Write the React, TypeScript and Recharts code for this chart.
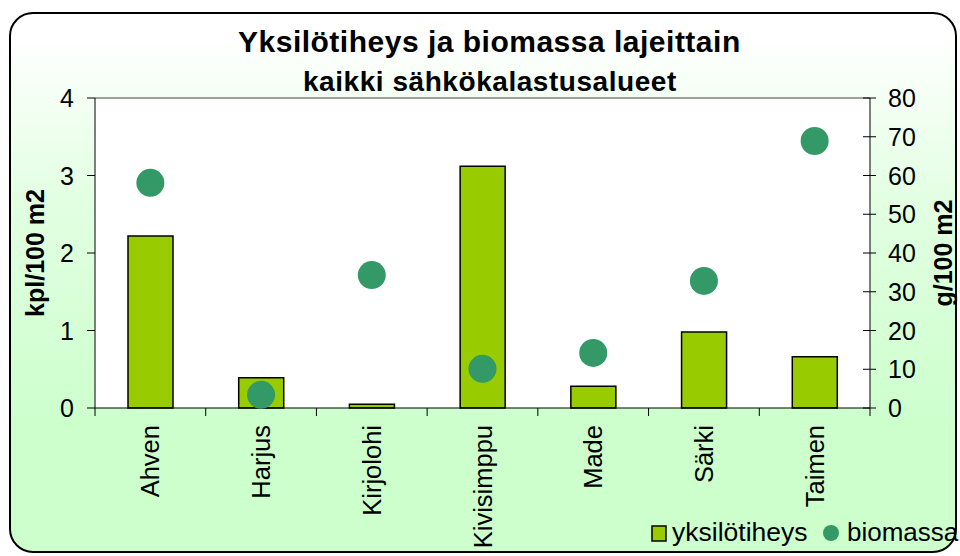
import React from 'react';
import { ComposedChart, Bar, Scatter, XAxis, YAxis, ReferenceArea, ReferenceLine, Label } from 'recharts';

const categories = ['Ahven', 'Harjus', 'Kirjolohi', 'Kivisimppu', 'Made', 'Särki', 'Taimen'];
const density = [2.22, 0.39, 0.05, 3.12, 0.28, 0.98, 0.66];
const biomass = [58.1, 3.4, 34.3, 10.1, 14.2, 32.8, 68.9];
const leftTicks = [0, 1, 2, 3, 4];
const rightTicks = [0, 10, 20, 30, 40, 50, 60, 70, 80];

const data = categories.map((name, i) => ({ name, density: density[i], biomass: biomass[i] }));

const FONT = '"Liberation Sans", Arial, sans-serif';
const W = 960;
const H = 556;
const MARGIN = { top: 98, right: 0, bottom: 8, left: 10 };
const LEFT_W = 85;
const RIGHT_W = 90;
const HALF_BAND = (W - MARGIN.left - MARGIN.right - LEFT_W - RIGHT_W) / categories.length / 2;

const XTick = (props: any) => {
  const { x, y, payload, index } = props;
  return (
    <g>
      <line x1={x - HALF_BAND} y1={y} x2={x - HALF_BAND} y2={y + 8} stroke="#000" strokeWidth={1} />
      {index === categories.length - 1 && (
        <line x1={x + HALF_BAND} y1={y} x2={x + HALF_BAND} y2={y + 8} stroke="#000" strokeWidth={1} />
      )}
      <text
        x={x}
        y={y + 17}
        transform={`rotate(-90, ${x}, ${y + 17})`}
        textAnchor="end"
        dominantBaseline="central"
        fontSize={25.5}
        fontFamily={FONT}
        fill="#000"
      >
        {payload.value}
      </text>
    </g>
  );
};

const LeftTick = (props: any) => {
  const { x, y, payload } = props;
  return (
    <g>
      <line x1={x - 8} y1={y} x2={x} y2={y} stroke="#000" strokeWidth={1} />
      <text x={x - 21} y={y} textAnchor="end" dominantBaseline="central" fontSize={25} fontFamily={FONT} fill="#000">
        {payload.value}
      </text>
    </g>
  );
};

const RightTick = (props: any) => {
  const { x, y, payload } = props;
  return (
    <g>
      <line x1={x - 7} y1={y} x2={x + 6} y2={y} stroke="#000" strokeWidth={1} />
      <text x={x + 18} y={y} textAnchor="start" dominantBaseline="central" fontSize={25} fontFamily={FONT} fill="#000">
        {payload.value}
      </text>
    </g>
  );
};

const Dot = (props: any) => <circle cx={props.cx} cy={props.cy} r={14} fill="#339966" />;

export default function App() {
  return (
    <div style={{ position: 'absolute', left: 0, top: 0, width: W, height: H, fontFamily: FONT }}>
      <div
        style={{
          position: 'absolute',
          left: 9,
          top: 12,
          width: 948,
          height: 541,
          boxSizing: 'border-box',
          border: '2px solid #000',
          borderRadius: 24,
          background: 'linear-gradient(180deg, #ffffff 4%, #e2ffe2 35%, #ccffcc 78%, #ccffcc 100%)',
        }}
      />
      <div style={{ position: 'absolute', left: 0, top: 0 }}>
        <ComposedChart width={W} height={H} data={data} margin={MARGIN}>
          <XAxis
            dataKey="name"
            xAxisId="x"
            height={140}
            interval={0}
            tickSize={0}
            tickMargin={0}
            tick={<XTick />}
            axisLine={{ stroke: '#000', strokeWidth: 1 }}
          />
          <YAxis
            yAxisId="left"
            orientation="left"
            width={LEFT_W}
            domain={[0, 4]}
            ticks={leftTicks}
            interval={0}
            tickSize={0}
            tickMargin={0}
            tick={<LeftTick />}
            axisLine={{ stroke: '#000', strokeWidth: 1 }}
          >
            <Label
              content={({ viewBox }: any) => {
                const cx = viewBox.x + 25;
                const cy = viewBox.y + viewBox.height / 2;
                return (
                  <text
                    x={cx}
                    y={cy}
                    transform={`rotate(-90, ${cx}, ${cy})`}
                    textAnchor="middle"
                    dominantBaseline="central"
                    fontSize={25}
                    fontWeight="bold"
                    fontFamily={FONT}
                    fill="#000"
                  >
                    kpl/100 m2
                  </text>
                );
              }}
            />
          </YAxis>
          <YAxis
            yAxisId="right"
            orientation="right"
            width={RIGHT_W}
            domain={[0, 80]}
            ticks={rightTicks}
            interval={0}
            tickSize={0}
            tickMargin={0}
            tick={<RightTick />}
            axisLine={{ stroke: '#000', strokeWidth: 1 }}
          >
            <Label
              content={({ viewBox }: any) => {
                const cx = viewBox.x + 73;
                const cy = viewBox.y + viewBox.height / 2;
                return (
                  <text
                    x={cx}
                    y={cy}
                    transform={`rotate(-90, ${cx}, ${cy})`}
                    textAnchor="middle"
                    dominantBaseline="central"
                    fontSize={25}
                    fontWeight="bold"
                    fontFamily={FONT}
                    fill="#000"
                  >
                    g/100 m2
                  </text>
                );
              }}
            />
          </YAxis>
          <ReferenceArea xAxisId="x" yAxisId="left" y1={0} y2={4} fill="#ffffff" fillOpacity={1} stroke="none" ifOverflow="visible" />
          <ReferenceLine xAxisId="x" yAxisId="left" y={4} stroke="#808080" strokeWidth={1.5} />
          <Bar
            xAxisId="x"
            yAxisId="left"
            dataKey="density"
            fill="#99CC00"
            stroke="#000"
            strokeWidth={1.5}
            barSize={45}
            isAnimationActive={false}
          />
          <Scatter
            xAxisId="x"
            yAxisId="right"
            dataKey="biomass"
            fill="#339966"
            shape={<Dot />}
            isAnimationActive={false}
          />
        </ComposedChart>
      </div>
      <svg width={W} height={H} style={{ position: 'absolute', left: 0, top: 0, pointerEvents: 'none' }}>
        <text x={238} y={52} textAnchor="start" fontSize={30} letterSpacing={0.5} fontWeight="bold" fontFamily={FONT} fill="#000">
          Yksilötiheys ja biomassa lajeittain
        </text>
        <text x={303} y={91} textAnchor="start" fontSize={28} letterSpacing={0.55} fontWeight="bold" fontFamily={FONT} fill="#000">
          kaikki sähkökalastusalueet
        </text>
        <rect x={652} y={526} width={14} height={15} fill="#99CC00" stroke="#000" strokeWidth={1.5} />
        <text x={672} y={541} fontSize={26.5} fontFamily={FONT} fill="#000">
          yksilötiheys
        </text>
        <circle cx={831} cy={533} r={8} fill="#339966" />
        <text x={847} y={541} fontSize={26} fontFamily={FONT} fill="#000">
          biomassa
        </text>
      </svg>
    </div>
  );
}
